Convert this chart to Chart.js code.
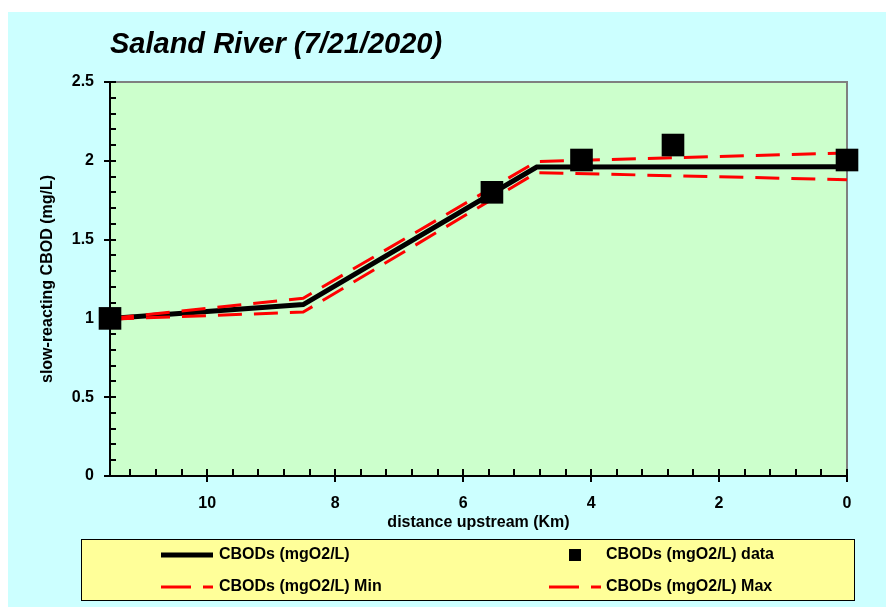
<!DOCTYPE html>
<html>
<head>
<meta charset="utf-8">
<script src="https://cdn.jsdelivr.net/npm/chart.js@4.4.1/dist/chart.umd.min.js"></script>
<style>
  html, body { margin: 0; padding: 0; background: #ffffff; }
  #wrap { width: 886px; height: 610px; position: relative; }
</style>
</head>
<body>
<div id="wrap"><canvas id="c" width="886" height="610"></canvas></div>
<script>
// ---- data ----
const titleText = 'Saland River (7/21/2020)';
const xTitle = 'distance upstream (Km)';
const yTitle = 'slow-reacting CBOD (mg/L)';

const modelX   = [11.52, 8.5, 4.85, 0];
const modelY   = [1.0, 1.088, 1.96, 1.962];
const modelMin = [0.995, 1.04, 1.925, 1.88];
const modelMax = [1.0, 1.128, 1.995, 2.05];

const dataX = [11.52, 5.55, 4.15, 2.72, 0];
const dataY = [1.0, 1.80, 2.005, 2.10, 2.005];

const xTicks = [10, 8, 6, 4, 2, 0];
const yTicks = [0, 0.5, 1, 1.5, 2, 2.5];
const xRange = [0, 11.52];
const yRange = [0, 2.5];

const seriesNames = ['CBODs (mgO2/L)', 'CBODs (mgO2/L) data', 'CBODs (mgO2/L) Min', 'CBODs (mgO2/L) Max'];

const pts = (xs, ys) => xs.map((x, i) => ({ x: x, y: ys[i] }));

const FONT = "'Liberation Sans', Arial, sans-serif";
const DASH = [24, 12];
const LEGEND_DASH = [30, 12];

const bgPlugin = {
  id: 'bg',
  beforeDraw(chart) {
    const ctx = chart.ctx, a = chart.chartArea;
    ctx.save();
    ctx.fillStyle = '#ffffff';
    ctx.fillRect(0, 0, chart.width, chart.height);
    ctx.fillStyle = '#CCFFFF';
    ctx.fillRect(8, 12, chart.width - 8, 595);
    ctx.fillStyle = '#CCFFCC';
    ctx.fillRect(a.left, a.top, a.right - a.left, a.bottom - a.top);
    ctx.strokeStyle = '#808080';
    ctx.lineWidth = 2;
    ctx.beginPath();
    ctx.moveTo(a.left, a.top);
    ctx.lineTo(a.right, a.top);
    ctx.lineTo(a.right, a.bottom);
    ctx.stroke();
    ctx.restore();
  }
};

const tickPlugin = {
  id: 'ticks2',
  beforeDatasetsDraw(chart) {
    const ctx = chart.ctx, a = chart.chartArea;
    const xs = chart.scales.x, ys = chart.scales.y;
    ctx.save();
    ctx.strokeStyle = '#000';
    ctx.lineWidth = 2;
    ctx.beginPath();
    for (let k = 0; k <= 25; k++) {
      const v = k / 10;
      const py = Math.round(ys.getPixelForValue(v));
      if (k % 5 === 0) { ctx.moveTo(a.left - 6, py); ctx.lineTo(a.left + 6, py); }
      else { ctx.moveTo(a.left, py); ctx.lineTo(a.left + 6, py); }
    }
    for (let k = 0; k * 0.4 <= xRange[1] + 1e-9; k++) {
      const v = k * 0.4;
      const px = Math.round(xs.getPixelForValue(v));
      if (k % 5 === 0) { ctx.moveTo(px, a.bottom - 7); ctx.lineTo(px, a.bottom + 6); }
      else { ctx.moveTo(px, a.bottom); ctx.lineTo(px, a.bottom - 7); }
    }
    ctx.stroke();
    ctx.restore();
  }
};

const legendPlugin = {
  id: 'legend2',
  afterDraw(chart) {
    const ctx = chart.ctx;
    const ds = chart.data.datasets;
    const box = { l: 81, t: 539, r: 855, b: 601 };
    ctx.save();
    ctx.fillStyle = '#FFFF99';
    ctx.fillRect(box.l, box.t, box.r - box.l, box.b - box.t);
    ctx.strokeStyle = '#000';
    ctx.lineWidth = 1;
    ctx.strokeRect(box.l + 0.5, box.t + 0.5, box.r - box.l - 1, box.b - box.t - 1);
    const slots = [
      { x0: 161, x1: 213, tx: 219, y: 555 },
      { x0: 569, x1: 581, tx: 606, y: 555 },
      { x0: 161, x1: 213, tx: 219, y: 587 },
      { x0: 549, x1: 601, tx: 606, y: 587 }
    ];
    ds.forEach((d, i) => {
      const s = slots[i];
      if (d.showLine === false) {
        ctx.fillStyle = d.pointBackgroundColor;
        ctx.fillRect(s.x0, s.y - 6, s.x1 - s.x0, 12);
      } else {
        ctx.strokeStyle = d.borderColor;
        ctx.lineWidth = d.borderWidth;
        ctx.setLineDash(d.borderDash ? LEGEND_DASH : []);
        ctx.lineCap = 'butt';
        ctx.beginPath();
        ctx.moveTo(s.x0, s.y);
        ctx.lineTo(s.x1, s.y);
        ctx.stroke();
        ctx.setLineDash([]);
      }
      ctx.fillStyle = '#000';
      ctx.font = 'bold 16px ' + FONT;
      ctx.textBaseline = 'middle';
      ctx.textAlign = 'left';
      ctx.fillText(d.label, s.tx, s.y);
    });
    ctx.restore();
  }
};

new Chart(document.getElementById('c'), {
  type: 'scatter',
  data: {
    datasets: [
      { label: seriesNames[0], data: pts(modelX, modelY), showLine: true, borderColor: '#000000',
        borderWidth: 5, pointRadius: 0, order: 3, clip: false, borderJoinStyle: 'miter' },
      { label: seriesNames[1], data: pts(dataX, dataY), showLine: false, pointStyle: 'rect',
        pointRadius: 16, pointBackgroundColor: '#000000', pointBorderColor: '#000000', pointBorderWidth: 0,
        order: 0, clip: false },
      { label: seriesNames[2], data: pts(modelX, modelMin), showLine: true, borderColor: '#FF0000',
        borderWidth: 3, borderDash: DASH, pointRadius: 0, order: 1, clip: false },
      { label: seriesNames[3], data: pts(modelX, modelMax), showLine: true, borderColor: '#FF0000',
        borderWidth: 3, borderDash: DASH, pointRadius: 0, order: 1, clip: false }
    ]
  },
  options: {
    responsive: false,
    animation: false,
    devicePixelRatio: 1,
    layout: { padding: { left: 0, right: 39, top: 0, bottom: 0 } },
    plugins: {
      legend: { display: false },
      tooltip: { enabled: false },
      title: {
        display: true, text: titleText, align: 'start', fullSize: false, color: '#000',
        font: { family: FONT, size: 29, weight: 'bold', style: 'italic', lineHeight: 1.2 },
        padding: { top: 28, bottom: 19.2 }
      }
    },
    scales: {
      x: {
        type: 'linear', reverse: true, min: xRange[0], max: xRange[1],
        afterBuildTicks: (s) => { s.ticks = xTicks.map(v => ({ value: v })); },
        afterFit: (s) => { s.height = 134; },
        grid: { display: false, drawTicks: false },
        border: { display: true, color: '#000', width: 2 },
        ticks: { color: '#000', padding: 18, maxRotation: 0, autoSkip: false,
          font: { family: FONT, size: 16, weight: 'bold' }, callback: (v) => String(v) },
        title: { display: true, text: xTitle, color: '#000',
          font: { family: FONT, size: 16, weight: 'bold' }, padding: { top: 0, bottom: 78 } }
      },
      y: {
        type: 'linear', min: yRange[0], max: yRange[1],
        afterBuildTicks: (s) => { s.ticks = yTicks.map(v => ({ value: v })); },
        afterFit: (s) => { s.width = 110; },
        grid: { display: false, drawTicks: false },
        border: { display: true, color: '#000', width: 2 },
        ticks: { color: '#000', padding: 16, autoSkip: false,
          font: { family: FONT, size: 16, weight: 'bold' }, callback: (v) => String(v) },
        title: { display: true, text: yTitle, color: '#000',
          font: { family: FONT, size: 16, weight: 'bold' }, padding: { top: 38, bottom: 0 } }
      }
    }
  },
  plugins: [bgPlugin, tickPlugin, legendPlugin]
});
</script>
</body>
</html>
